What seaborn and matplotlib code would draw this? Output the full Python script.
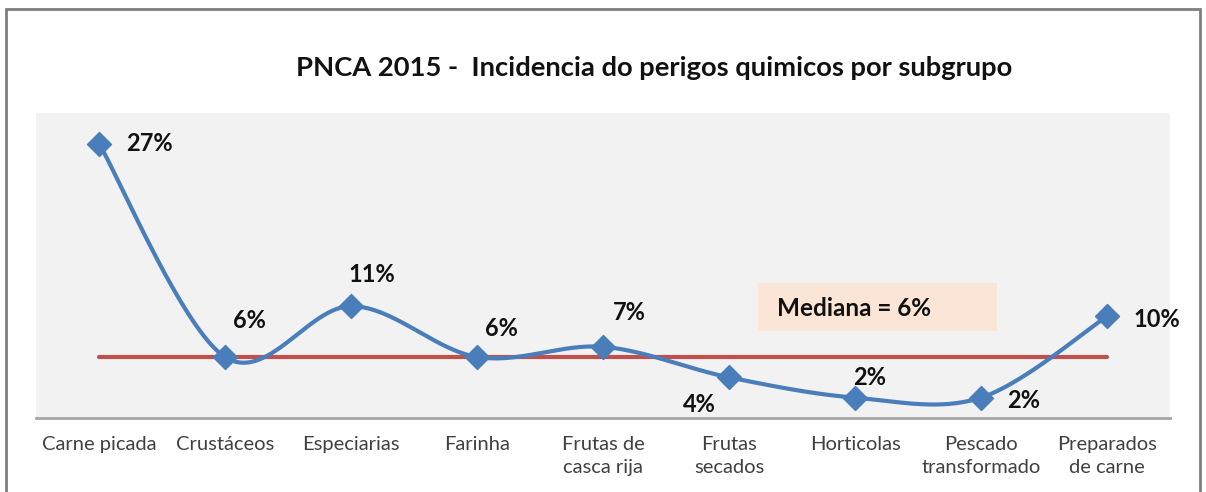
import numpy as np
import pandas as pd
import matplotlib
matplotlib.use("Agg")
import matplotlib.pyplot as plt
from matplotlib.patches import Rectangle
import seaborn as sns

# dados
subgrupos = ['Carne picada', 'Crustáceos', 'Especiarias', 'Farinha', 'Frutas de\ncasca rija',
             'Frutas\nsecados', 'Horticolas', 'Pescado\ntransformado', 'Preparados\nde carne']
incidencia = [27, 6, 11, 6, 7, 4, 2, 2, 10]
etiquetas = ['27%', '6%', '11%', '6%', '7%', '4%', '2%', '2%', '10%']
mediana = 6

# offsets das etiquetas (pixeis)
label_offsets = [(27, 0), (8, 37), (-3, 32), (8, 29), (10, 34), (-46, -27),
                 (-2, 20), (26, -3), (26, -3)]

sns.set_theme(style="white")
plt.rcParams['font.family'] = ['Lato', 'DejaVu Sans']

BLUE = '#4A7EBB'
RED = '#C0504D'

# curva suavizada (tipo Excel / Catmull-Rom)
x = np.arange(len(incidencia), dtype=float)
y = np.array(incidencia, dtype=float)
px = np.concatenate([[x[0]], x, [x[-1]]])
py = np.concatenate([[y[0]], y, [y[-1]]])
cx, cy = [], []
t = np.linspace(0, 1, 60)
for i in range(1, len(px) - 2):
    p0 = np.array([px[i], py[i]])
    p3 = np.array([px[i + 1], py[i + 1]])
    p1 = p0 + (np.array([px[i + 1], py[i + 1]]) - np.array([px[i - 1], py[i - 1]])) / 6
    p2 = p3 - (np.array([px[i + 2], py[i + 2]]) - np.array([px[i], py[i]])) / 6
    b = ((1 - t) ** 3)[:, None] * p0 + (3 * (1 - t) ** 2 * t)[:, None] * p1 \
        + (3 * (1 - t) * t ** 2)[:, None] * p2 + (t ** 3)[:, None] * p3
    cx.extend(b[:, 0]); cy.extend(b[:, 1])
curva = pd.DataFrame({'x': cx, 'y': cy})
pontos = pd.DataFrame({'x': x, 'y': y})

fig = plt.figure(figsize=(12.06, 4.92), dpi=100)
ax = fig.add_axes([36 / 1206, 74 / 492, 1134 / 1206, 305 / 492])
ax.set_facecolor('#F2F2F2')

# linha da mediana
ax.plot([x[0], x[-1]], [mediana, mediana], color=RED, lw=3, zorder=2)

sns.lineplot(data=curva, x='x', y='y', sort=False, estimator=None, color=BLUE, lw=3, ax=ax, zorder=3)
sns.scatterplot(data=pontos, x='x', y='y', marker='D', s=150, color=BLUE, edgecolor=BLUE, ax=ax, zorder=4)

for xi, yi, lab, (dx, dy) in zip(x, y, etiquetas, label_offsets):
    ax.annotate(lab, (xi, yi), xytext=(dx, dy), textcoords='offset pixels', ha='left', va='center',
                fontsize=17, fontweight='bold', color='#111111')

# caixa da mediana
ax.add_patch(Rectangle((5.23, 8.55), 1.9, 4.7, facecolor='#FBE5D6', edgecolor='none', zorder=1))
ax.text(5.38, 10.75, 'Mediana = %d%%' % mediana, fontsize=17.5, fontweight='bold', color='#111111',
        ha='left', va='center', zorder=2)

ax.set_xlim(-0.5, 8.5)
ax.set_ylim(0, 30)
ax.set_xticks(x)
ax.set_xticklabels(subgrupos, fontsize=14.5, color='#404040', linespacing=1.45, va='top')
ax.tick_params(axis='x', length=0, pad=13)
ax.set_yticks([])
ax.set_xlabel('')
ax.set_ylabel('')
for s in ['left', 'right', 'top']:
    ax.spines[s].set_visible(False)
ax.spines['bottom'].set_color('#A6A6A6')
ax.spines['bottom'].set_linewidth(2)

fig.text(0.542, 0.862, 'PNCA 2015 -  Incidencia do perigos quimicos por subgrupo', ha='center', va='center',
         fontsize=19.7, fontweight='bold', color='#111111')

# moldura
fig.patches.append(Rectangle((6 / 1206, -0.1), 1194 / 1206, 1.1 - 9 / 492, transform=fig.transFigure,
                             fill=False, edgecolor='#7F7F7F', lw=2))

fig.savefig('out.png', dpi=100)
